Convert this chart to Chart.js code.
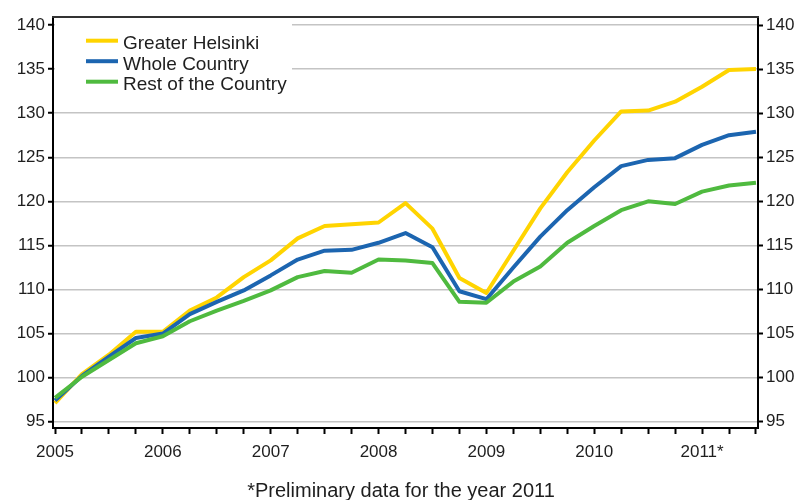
<!DOCTYPE html>
<html>
<head>
<meta charset="utf-8">
<title>Price index</title>
<script src="https://cdn.jsdelivr.net/npm/chart.js@4/dist/chart.umd.min.js"></script>
<style>
  html, body { margin: 0; padding: 0; background: #fff; }
  #wrap { width: 798px; height: 500px; }
</style>
</head>
<body>
<div id="wrap"><canvas id="priceChart" width="798" height="500"></canvas></div>
<script>
// quarterly index values, 2005 Q1 .. 2011 Q3
const yearLabels = ['2005', '2006', '2007', '2008', '2009', '2010', '2011*'];
const yTicks = [95, 100, 105, 110, 115, 120, 125, 130, 135, 140];
const seriesNames = ['Greater Helsinki', 'Whole Country', 'Rest of the Country'];

const helsinki = [97.1, 100.4, 102.6, 105.2, 105.2, 107.6, 109.1, 111.4, 113.3, 115.8, 117.2, 117.4, 117.6, 119.8, 116.9, 111.3, 109.6, 114.4, 119.2, 123.3, 126.9, 130.2, 130.3, 131.3, 133.0, 134.9, 135.0];
const wholeCountry = [97.4, 100.2, 102.4, 104.5, 105.0, 107.2, 108.6, 109.9, 111.6, 113.4, 114.4, 114.5, 115.3, 116.4, 114.8, 109.8, 108.9, 112.5, 116.0, 119.0, 121.6, 124.0, 124.7, 124.9, 126.4, 127.5, 127.9];
const restOfCountry = [97.7, 100.1, 102.0, 103.9, 104.7, 106.4, 107.6, 108.7, 109.9, 111.4, 112.1, 111.9, 113.4, 113.3, 113.0, 108.6, 108.5, 110.9, 112.6, 115.3, 117.2, 119.0, 120.0, 119.7, 121.1, 121.8, 122.1];

const footnote = '*Preliminary data for the year 2011';
const fontFamily = '"Liberation Sans", Arial, sans-serif';
const textColor = '#1e1e1e';

function toPoints(values) {
  return values.map((v, i) => ({ x: i, y: v }));
}

// top frame line, legend box and footnote
const decorations = {
  id: 'decorations',
  afterDatasetsDraw(chart) {
    const ctx = chart.ctx;
    const area = chart.chartArea;
    ctx.save();

    // white legend box over the gridlines
    ctx.fillStyle = '#fff';
    ctx.fillRect(area.left + 2, area.top + 2, 292 - area.left - 2, 96 - area.top - 2);

    const rows = [40.7, 61.2, 81.7];
    ctx.font = '19px ' + fontFamily;
    ctx.textBaseline = 'alphabetic';
    chart.data.datasets.forEach((ds, i) => {
      ctx.strokeStyle = ds.borderColor;
      ctx.lineWidth = 4;
      ctx.beginPath();
      ctx.moveTo(86, rows[i]);
      ctx.lineTo(118, rows[i]);
      ctx.stroke();
      ctx.fillStyle = textColor;
      ctx.fillText(ds.label, 123, rows[i] + 8.5);
    });

    // frame top
    ctx.strokeStyle = '#333';
    ctx.lineWidth = 2;
    ctx.beginPath();
    ctx.moveTo(area.left - 1, area.top);
    ctx.lineTo(area.right + 1, area.top);
    ctx.stroke();

    // footnote
    ctx.font = '20px ' + fontFamily;
    ctx.fillStyle = textColor;
    ctx.textAlign = 'center';
    ctx.fillText(footnote, 401, 497);
    ctx.restore();
  }
};

const yScaleBase = {
  type: 'linear',
  min: 94.29,
  max: 140.91,
  afterBuildTicks: scale => { scale.ticks = yTicks.map(v => ({ value: v })); },
  border: { color: '#000', width: 2 },
  ticks: {
    color: textColor,
    padding: 3,
    font: { family: fontFamily, size: 17 }
  }
};

new Chart(document.getElementById('priceChart'), {
  type: 'line',
  data: {
    datasets: [
      { label: seriesNames[0], data: toPoints(helsinki), borderColor: '#ffd400', order: 2 },
      { label: seriesNames[1], data: toPoints(wholeCountry), borderColor: '#1c65b0', order: 1 },
      { label: seriesNames[2], data: toPoints(restOfCountry), borderColor: '#4fba3f', order: 0 }
    ]
  },
  options: {
    responsive: false,
    animation: false,
    layout: { padding: { top: 17, bottom: 32, left: 0, right: 0 } },
    elements: {
      line: { borderWidth: 4, tension: 0, fill: false, borderCapStyle: 'butt', borderJoinStyle: 'round' },
      point: { radius: 0, hoverRadius: 0 }
    },
    plugins: {
      legend: { display: false },
      tooltip: { enabled: false }
    },
    scales: {
      x: {
        type: 'linear',
        min: -0.075,
        max: 26.075,
        afterBuildTicks: scale => {
          scale.ticks = helsinki.map((v, i) => ({ value: i }));
        },
        afterFit: scale => { scale.height = 40; },
        border: { color: '#000', width: 2 },
        grid: { drawOnChartArea: false, drawTicks: true, tickLength: 6, tickColor: '#000', tickWidth: 2 },
        ticks: {
          autoSkip: false,
          maxRotation: 0,
          color: textColor,
          padding: 8,
          font: { family: fontFamily, size: 17 },
          callback: value => (value % 4 === 0 ? yearLabels[value / 4] : '')
        }
      },
      y: Object.assign({}, yScaleBase, {
        position: 'left',
        afterFit: scale => { scale.width = 53; },
        grid: { color: '#c4c4c4', lineWidth: 1.5, drawTicks: true, tickLength: 5, tickColor: '#000', tickWidth: 2 }
      }),
      y2: Object.assign({}, yScaleBase, {
        position: 'right',
        afterFit: scale => { scale.width = 40; },
        grid: { drawOnChartArea: false, drawTicks: true, tickLength: 5, tickColor: '#000', tickWidth: 2 }
      })
    }
  },
  plugins: [decorations]
});
</script>
</body>
</html>
